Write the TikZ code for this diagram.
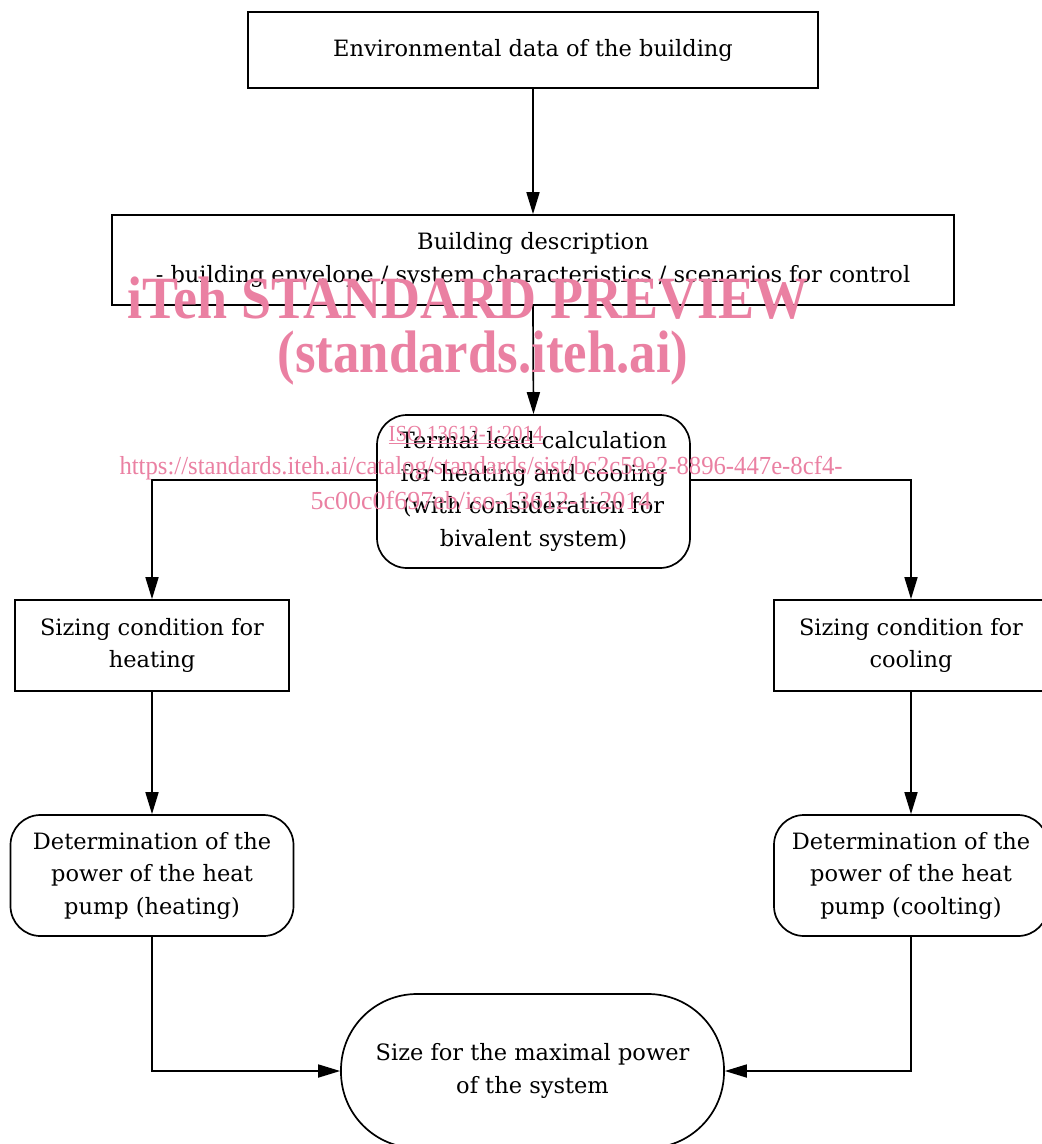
\documentclass[tikz,border=0pt]{standalone}
\usepackage{fontspec}
\setmainfont{DejaVu Serif}
\newfontfamily\wmfont{Liberation Serif}
\usetikzlibrary{arrows.meta}
\definecolor{wmpink}{RGB}{234,128,162}

\tikzset{
  box/.style={draw, line width=1.7pt, align=center, inner sep=0pt,
    font=\fontsize{22.5}{32.5}\selectfont},
  roundbox/.style={box, rounded corners=30pt},
  link/.style={-{Triangle[length=22pt,width=13pt]}, line width=1.7pt},
  wm/.style={text=wmpink, inner sep=0pt},
}

\begin{document}
\begin{tikzpicture}
    [x=1pt, y=-1pt]
    \useasboundingbox (0,0) rectangle (1042,1144);

    \node[box, minimum width=570pt, minimum height=76pt] (env) at (533,50)
      {Environmental data of the building};
    \node[box, minimum width=842pt, minimum height=90pt] (build) at (533,260)
      {Building description\\- building envelope / system characteristics / scenarios for control};
    \node[roundbox, minimum width=313pt, minimum height=153pt] (term) at (533.5,491.5)
      {Termal load calculation\\for heating and cooling\\(with consideration for\\bivalent system)};

    \node[box, minimum width=274pt, minimum height=91pt] (heatsz) at (152,645.5)
      {Sizing condition for\\heating};
    \node[box, minimum width=274pt, minimum height=91pt] (coolsz) at (911,645.5)
      {Sizing condition for\\cooling};

    \node[roundbox, minimum width=283pt, minimum height=121pt] (heatdet) at (152,875.5)
      {Determination of the\\power of the heat\\pump (heating)};
    \node[roundbox, minimum width=274pt, minimum height=121pt] (cooldet) at (911,875.5)
      {Determination of the\\power of the heat\\pump (coolting)};

    \node[box, rounded corners=76pt, minimum width=383pt, minimum height=154pt] (final) at (532.5,1071)
      {Size for the maximal power\\of the system};

    \draw[link] (env.south) -- (build.north);
    \draw[link] (build.south) -- (term.north);
    \draw[link] ([yshift=11.5pt]term.west) -| (heatsz.north);
    \draw[link] ([yshift=11.5pt]term.east) -| (coolsz.north);
    \draw[link] (heatsz.south) -- (heatdet.north);
    \draw[link] (coolsz.south) -- (cooldet.north);
    \draw[link] (heatdet.south) |- (final.west);
    \draw[link] (cooldet.south) |- (final.east);

    % watermark
    \node[wm, font=\wmfont\bfseries\fontsize{60}{60}\selectfont] (wmtitle) at (468,298)
      {\scalebox{0.9}[1]{iTeh STANDARD PREVIEW}};
    \node[wm, font=\wmfont\bfseries\fontsize{60}{60}\selectfont] (wmsite) at (483,358)
      {\scalebox{0.88}[1]{(standards.iteh.ai)}};
    \node[wm, font=\wmfont\fontsize{23}{23}\selectfont] (wmiso) at (466,435)
      {\scalebox{0.9}[1]{\underline{ISO 13612-1:2014}}};
    \node[wm, font=\wmfont\fontsize{26}{26}\selectfont] (wmurl) at (481,468)
      {\scalebox{0.95}[1]{https://standards.iteh.ai/catalog/standards/sist/bc2c59e2-8896-447e-8cf4-}};
    \node[wm, font=\wmfont\fontsize{26}{26}\selectfont] (wmurl2) at (481,500)
      {\scalebox{1.0}[1]{5c00c0f697eb/iso-13612-1-2014}};
\end{tikzpicture}
\end{document}
